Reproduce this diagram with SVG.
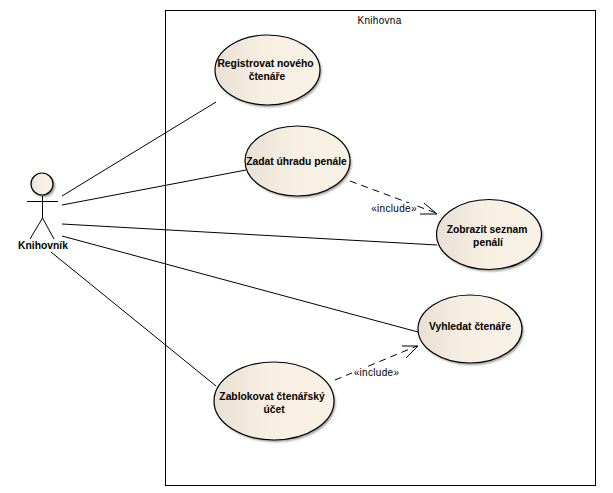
<svg xmlns="http://www.w3.org/2000/svg" width="613" height="493" viewBox="0 0 613 493">
<style>
text{font-family:"Liberation Sans",Arial,sans-serif;fill:#000;text-anchor:middle}
.b{font-size:10.3px;font-weight:bold}
.n{font-size:10px;letter-spacing:.3px}
.uc{fill:url(#fill);stroke:#000;stroke-width:1.2}
.sh{fill:#9a9a9a;filter:url(#soft)}
.ln{fill:none;stroke:#000;stroke-width:1}
.dash{stroke-dasharray:7 5}
</style>
<defs>
<linearGradient id="fill" x1="0" x2="1" y1="0" y2="0"><stop offset="0" stop-color="#e8e0d4"/><stop offset=".45" stop-color="#f7efe2"/><stop offset="1" stop-color="#f8f1e5"/></linearGradient>
<filter id="soft" x="-10%" y="-10%" width="120%" height="120%"><feGaussianBlur stdDeviation="1"/></filter>
</defs>
<!-- system boundary -->
<rect id="boundary" x="165.500" y="10.500" width="430" height="475" fill="#fff" stroke="#000"/>
<text class="n" x="379.500" y="24">Knihovna</text>
<g id="connectors">
<path class="ln" d="M62 196L216 102M62 205L246 170M62 224L437 245M62 236L418 332M51 252L216 386"/>
<path class="ln dash" d="M350 181L436 213"/>
<path class="ln" d="M424 203L437 214L420 214"/>
<path class="ln dash" d="M335 380L417 346"/>
<path class="ln" d="M402 346L418 346L406 358"/>
</g>
<g id="actor">
<circle class="sh" cx="44" cy="186" r="11"/>
<circle class="uc" cx="42" cy="184" r="11"/>
<path class="ln" d="M27 201.500H58M42.500 196V218L30 239M42.500 218L54 239"/>
<text class="b" x="43" y="249">Knihovník</text>
</g>
<g id="registrovat">
<ellipse class="sh" cx="269" cy="72" rx="52.500" ry="35"/>
<ellipse class="uc" cx="267.500" cy="70" rx="52.500" ry="35"/>
<text class="b" x="265.500" y="67">Registrovat nového</text><text class="b" x="267" y="80">čtenáře</text>
</g>
<g id="zadat">
<ellipse class="sh" cx="299" cy="163" rx="52.500" ry="35"/>
<ellipse class="uc" cx="297.500" cy="161" rx="52.500" ry="35"/>
<text class="b" x="296.500" y="165">Zadat úhradu penále</text>
</g>
<g id="zobrazit">
<ellipse class="sh" cx="490.500" cy="236.500" rx="52.500" ry="35"/>
<ellipse class="uc" cx="489" cy="234.500" rx="52.500" ry="35"/>
<text class="b" x="487" y="233">Zobrazit seznam</text><text class="b" x="488" y="246">penálí</text>
</g>
<g id="vyhledat">
<ellipse class="sh" cx="471.500" cy="331" rx="52" ry="34"/>
<ellipse class="uc" cx="470" cy="329" rx="52" ry="34"/>
<text class="b" x="470" y="330">Vyhledat čtenáře</text>
</g>
<g id="zablokovat">
<ellipse class="sh" cx="275.500" cy="403" rx="60" ry="39"/>
<ellipse class="uc" cx="274" cy="401" rx="60" ry="39"/>
<text class="b" x="272" y="400">Zablokovat čtenářský</text><text class="b" x="274" y="413">účet</text>
</g>
<!-- stereotype labels sit on a white plate that interrupts the dashes -->
<rect x="371" y="203" width="46" height="11" fill="#fff"/>
<text class="n" x="394" y="212">«include»</text>
<rect x="352" y="367" width="48" height="12" fill="#fff"/>
<text class="n" x="376.500" y="376">«include»</text>
</svg>
